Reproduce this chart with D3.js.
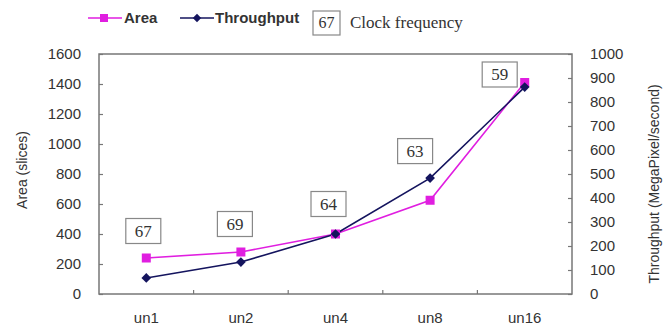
<!DOCTYPE html>
<html>
<head>
<meta charset="utf-8">
<script src="https://cdn.jsdelivr.net/npm/d3@7/dist/d3.min.js"></script>
<style>
  html, body { margin: 0; padding: 0; background: #fff; }
  svg { display: block; }
  .sans { font-family: "Liberation Sans", Arial, sans-serif; fill: #333; }
  .serif { font-family: "Liberation Serif", "Times New Roman", serif; fill: #333; }
</style>
</head>
<body>
<svg id="chart" width="665" height="335"></svg>
<script>
// Unrolling factors on the x axis
const categories = ["un1", "un2", "un4", "un8", "un16"];
// Area in slices (left axis)
const areaValues = [240, 280, 400, 625, 1410];
// Throughput in MegaPixel/second (right axis)
const throughputValues = [67, 133, 250, 483, 862];
// Clock frequency annotation for each design
const clockLabels = ["67", "69", "64", "63", "59"];
// Axis ticks
const areaTicks = [0, 200, 400, 600, 800, 1000, 1200, 1400, 1600];
const throughputTicks = [0, 100, 200, 300, 400, 500, 600, 700, 800, 900, 1000];

const pink = "#e01ee0";
const navy = "#14145e";
const frameColor = "#777";

const svg = d3.select("#chart");
const m = { left: 99, right: 572, top: 54, bottom: 294 };

const x = d3.scaleBand().domain(categories).range([m.left, m.right]);
const xc = c => x(c) + x.bandwidth() / 2;
const yArea = d3.scaleLinear().domain([0, 1600]).range([m.bottom, m.top]);
const yThr = d3.scaleLinear().domain([0, 1000]).range([m.bottom, m.top]);
const fmt = d3.format("d");

// Plot frame
svg.append("rect")
  .attr("x", m.left).attr("y", m.top)
  .attr("width", m.right - m.left).attr("height", m.bottom - m.top)
  .attr("fill", "none").attr("stroke", frameColor).attr("stroke-width", 1.5);

// Left axis: inward ticks, labels outside
const leftAxis = svg.append("g").attr("transform", `translate(${m.left},0)`)
  .call(d3.axisLeft(yArea).tickValues(areaTicks).tickFormat(fmt).tickSize(-4).tickPadding(18));
leftAxis.select(".domain").remove();

// Right axis
const rightAxis = svg.append("g").attr("transform", `translate(${m.right},0)`)
  .call(d3.axisRight(yThr).tickValues(throughputTicks).tickFormat(fmt).tickSize(-4).tickPadding(18));
rightAxis.select(".domain").remove();

// Bottom axis: ticks between categories
const bottomAxis = svg.append("g").attr("transform", `translate(0,${m.bottom})`)
  .call(d3.axisBottom(x).tickSize(0).tickPadding(18));
bottomAxis.select(".domain").remove();
svg.append("g").selectAll("line")
  .data(categories.slice(1))
  .join("line")
  .attr("x1", d => x(d)).attr("x2", d => x(d))
  .attr("y1", m.bottom).attr("y2", m.bottom - 4)
  .attr("stroke", frameColor).attr("stroke-width", 1.2);

[leftAxis, rightAxis, bottomAxis].forEach(g => {
  g.selectAll(".tick line").attr("stroke", frameColor).attr("stroke-width", 1.2);
  g.selectAll(".tick text").attr("class", "sans").attr("font-size", 15).attr("fill", "#333");
  g.attr("font-family", null).attr("font-size", null);
});

// Axis titles
svg.append("text").attr("class", "sans").attr("font-size", 14)
  .attr("transform", `translate(27,${(m.top + m.bottom) / 2 - 4}) rotate(-90)`)
  .attr("text-anchor", "middle").text("Area (slices)");
svg.append("text").attr("class", "sans").attr("font-size", 14)
  .attr("transform", `translate(659,${(m.top + m.bottom) / 2 + 10}) rotate(-90)`)
  .attr("text-anchor", "middle").text("Throughput (MegaPixel/second)");

// Series lines
const areaLine = d3.line().x((d, i) => xc(categories[i])).y(d => yArea(d));
const thrLine = d3.line().x((d, i) => xc(categories[i])).y(d => yThr(d));

svg.append("path").datum(areaValues).attr("d", areaLine)
  .attr("fill", "none").attr("stroke", pink).attr("stroke-width", 1.6);
svg.append("path").datum(throughputValues).attr("d", thrLine)
  .attr("fill", "none").attr("stroke", navy).attr("stroke-width", 1.6);

// Markers
svg.append("g").selectAll("rect")
  .data(areaValues).join("rect")
  .attr("x", (d, i) => xc(categories[i]) - 4.5)
  .attr("y", d => yArea(d) - 4.5)
  .attr("width", 9).attr("height", 9).attr("fill", pink);

const diamond = d3.symbol().type(d3.symbolDiamond2).size(60);
svg.append("g").selectAll("path")
  .data(throughputValues).join("path")
  .attr("transform", (d, i) => `translate(${xc(categories[i])},${yThr(d)})`)
  .attr("d", diamond).attr("fill", navy);

// Clock frequency boxes, placed above the upper point of each pair
const boxOffsets = [[-3, -27], [-6, -28], [-7, -30], [-15, -27], [-25, -8]];
const boxW = 35, boxH = 25;
const boxes = svg.append("g").selectAll("g")
  .data(clockLabels).join("g")
  .attr("transform", (d, i) => {
    const top = Math.min(yArea(areaValues[i]), yThr(throughputValues[i]));
    return `translate(${xc(categories[i]) + boxOffsets[i][0]},${top + boxOffsets[i][1]})`;
  });
boxes.append("rect")
  .attr("x", -boxW / 2).attr("y", -boxH / 2)
  .attr("width", boxW).attr("height", boxH)
  .attr("fill", "#fff").attr("stroke", "#888").attr("stroke-width", 1.2);
boxes.append("text").attr("class", "serif").attr("font-size", 17)
  .attr("text-anchor", "middle").attr("dy", "0.35em").text(d => d);

// Legend
const legend = svg.append("g");
legend.append("line").attr("x1", 88).attr("x2", 122).attr("y1", 18).attr("y2", 18)
  .attr("stroke", pink).attr("stroke-width", 1.6);
legend.append("rect").attr("x", 100).attr("y", 14).attr("width", 8).attr("height", 8).attr("fill", pink);
legend.append("text").attr("class", "sans").attr("font-size", 15).attr("font-weight", "bold")
  .attr("x", 124).attr("y", 23).attr("fill", "#333").text("Area");

legend.append("line").attr("x1", 180).attr("x2", 214).attr("y1", 18).attr("y2", 18)
  .attr("stroke", navy).attr("stroke-width", 1.6);
legend.append("path").attr("transform", "translate(197,18)")
  .attr("d", d3.symbol().type(d3.symbolDiamond2).size(45)).attr("fill", navy);
legend.append("text").attr("class", "sans").attr("font-size", 15).attr("font-weight", "bold")
  .attr("x", 215).attr("y", 23).attr("fill", "#333").text("Throughput");

legend.append("rect").attr("x", 313).attr("y", 11).attr("width", 27).attr("height", 24)
  .attr("fill", "#fff").attr("stroke", "#888").attr("stroke-width", 1.2);
legend.append("text").attr("class", "serif").attr("font-size", 16)
  .attr("x", 326.5).attr("y", 28).attr("text-anchor", "middle").text(clockLabels[0]);
legend.append("text").attr("class", "serif").attr("font-size", 17)
  .attr("x", 350).attr("y", 28).text("Clock frequency");
</script>
</body>
</html>
